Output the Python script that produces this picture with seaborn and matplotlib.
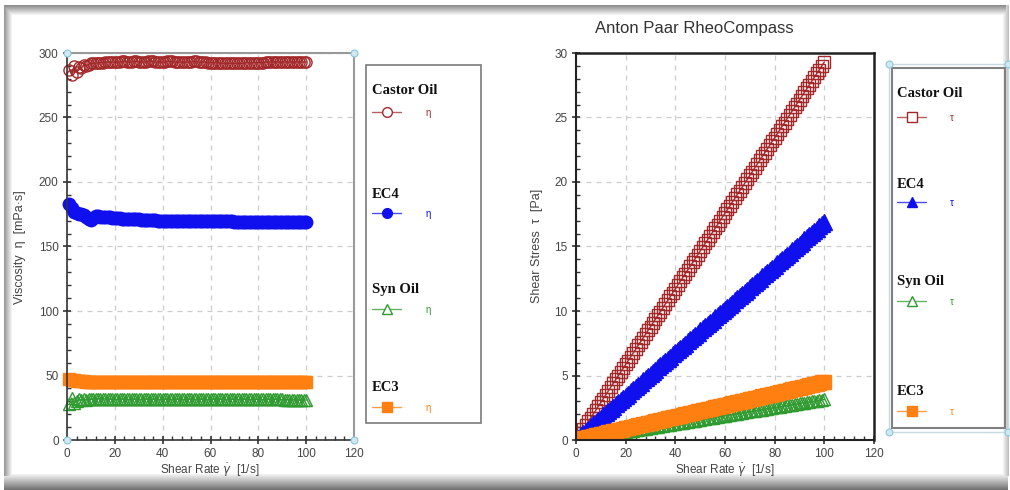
import numpy as np
import matplotlib
matplotlib.use("Agg")
import matplotlib.pyplot as plt
from matplotlib.lines import Line2D
from matplotlib.patches import Rectangle
from matplotlib.ticker import MultipleLocator
import seaborn as sns

# ---- measured flow curves (shear rate in 1/s) ----
shear_rate = [1, 2, 3, 4, 5, 6, 7, 8, 9, 10,
              11, 12, 13, 14, 15, 16, 17, 18, 19, 20,
              21, 22, 23, 24, 25, 26, 27, 28, 29, 30,
              31, 32, 33, 34, 35, 36, 37, 38, 39, 40,
              41, 42, 43, 44, 45, 46, 47, 48, 49, 50,
              51, 52, 53, 54, 55, 56, 57, 58, 59, 60,
              61, 62, 63, 64, 65, 66, 67, 68, 69, 70,
              71, 72, 73, 74, 75, 76, 77, 78, 79, 80,
              81, 82, 83, 84, 85, 86, 87, 88, 89, 90,
              91, 92, 93, 94, 95, 96, 97, 98, 99, 100]

# viscosity eta [mPa.s]
castor_visc = [287, 283, 290, 285, 289, 288, 291, 290, 291, 292,
               292, 292, 292.5, 292.5, 292.5, 293, 293, 293, 293, 293,
               293, 293, 293.5, 293.5, 293, 293, 293, 293.5, 293.5, 293,
               293, 293, 293, 293.5, 293.5, 293.5, 293, 293, 293, 293,
               293, 293.5, 293.5, 293.5, 293, 293, 293, 293, 293, 293,
               293, 293, 293.5, 293.5, 293, 293, 293, 293, 292.5, 292.5,
               292.5, 292.5, 292.5, 292, 292, 292, 292, 292, 292, 292,
               292, 292, 292, 292, 292.5, 292.5, 292.5, 292.5, 292.5, 292.5,
               292.5, 292.5, 293, 293, 293, 293, 293, 293, 293, 293,
               293, 293, 293, 293, 293, 293, 293, 293, 293, 293]
ec4_visc = [183, 180, 177, 176, 175.5, 175, 174.5, 173, 171, 170.5,
            172, 173.5, 173.5, 173, 173, 172.5, 172.5, 172.5, 172, 172,
            172, 171.8, 171.6, 171.5, 171.4, 171.3, 171.2, 171, 171, 171,
            170.8, 170.7, 170.6, 170.5, 170.4, 170.3, 170.2, 170, 170, 170,
            170, 170, 170, 170, 170, 169.8, 169.8, 169.8, 169.8, 169.8,
            169.7, 169.7, 169.7, 169.7, 169.6, 169.6, 169.6, 169.6, 169.5, 169.5,
            169.5, 169.5, 169.5, 169.5, 169.5, 169.4, 169.4, 169.4, 169.4, 169.3,
            169.3, 169.3, 169.3, 169.2, 169.2, 169.2, 169.2, 169.1, 169.1, 169.1,
            169, 169, 169, 169, 169, 169, 169, 169, 169, 169,
            169, 169, 169, 169, 169, 169, 169, 169, 169, 169]
syn_visc = [28, 32.5, 29, 30.5, 31.5, 31, 31.5, 31.2, 31.5, 31.5,
            31.6, 31.8, 32, 32, 32, 31.8, 31.6, 31.5, 31.5, 31.5,
            31.5, 31.5, 31.5, 31.5, 31.5, 31.5, 31.5, 31.5, 31.5, 31.5,
            31.5, 31.5, 31.5, 31.5, 31.5, 31.5, 31.5, 31.5, 31.5, 31.5,
            31.5, 31.5, 31.5, 31.5, 31.5, 31.5, 31.5, 31.5, 31.5, 31.5,
            31.5, 31.5, 31.5, 31.5, 31.5, 31.5, 31.5, 31.5, 31.5, 31.5,
            31.5, 31.5, 31.5, 31.5, 31.5, 31.5, 31.5, 31.5, 31.5, 31.5,
            31.5, 31.5, 31.5, 31.5, 31.5, 31.5, 31.5, 31.5, 31.5, 31.5,
            31.4, 31.4, 31.4, 31.4, 31.4, 31.4, 31.4, 31.4, 31.4, 31.4,
            31.3, 31.3, 31.2, 31.2, 31.2, 31.1, 31.1, 31, 31, 31]
ec3_visc = [47.5, 46.5, 46.2, 46, 45.8, 45.5, 45.4, 45.3, 45.2, 45.1,
            45, 45, 45, 45, 45, 45, 45, 45, 45, 45,
            45, 45, 45, 45, 45, 45, 45, 45, 45, 45,
            45, 45, 45, 45, 45, 45, 45, 45, 45, 45,
            45, 45, 45, 45, 45, 45, 45, 45, 45, 45,
            45, 45, 45, 45, 45, 45, 45, 45, 45, 45,
            45, 45, 45, 45, 45, 45, 45, 45, 45, 45,
            45, 45, 45, 45, 45, 45, 45, 45, 45, 45,
            45, 45, 45, 45, 45, 45, 45, 45, 45, 45,
            45, 45, 45, 45, 45, 45, 45, 45, 45, 45]

# shear stress tau [Pa]
castor_stress = [0.29, 0.57, 0.87, 1.14, 1.45, 1.73, 2.04, 2.32, 2.62, 2.92,
                 3.21, 3.50, 3.80, 4.10, 4.39, 4.69, 4.98, 5.27, 5.57, 5.86,
                 6.15, 6.45, 6.74, 7.03, 7.33, 7.62, 7.91, 8.20, 8.50, 8.79,
                 9.08, 9.38, 9.67, 9.96, 10.26, 10.55, 10.84, 11.13, 11.43, 11.72,
                 12.01, 12.31, 12.60, 12.89, 13.19, 13.48, 13.77, 14.06, 14.36, 14.65,
                 14.94, 15.24, 15.53, 15.82, 16.12, 16.41, 16.70, 16.99, 17.29, 17.58,
                 17.87, 18.17, 18.46, 18.75, 19.05, 19.34, 19.63, 19.92, 20.22, 20.51,
                 20.80, 21.10, 21.39, 21.68, 21.98, 22.27, 22.56, 22.85, 23.15, 23.44,
                 23.73, 24.03, 24.32, 24.61, 24.91, 25.20, 25.49, 25.78, 26.08, 26.37,
                 26.66, 26.96, 27.25, 27.54, 27.84, 28.13, 28.42, 28.71, 29.01, 29.30]
ec4_stress = [0.18, 0.36, 0.53, 0.70, 0.87, 1.05, 1.22, 1.38, 1.54, 1.71,
              1.90, 2.08, 2.25, 2.42, 2.59, 2.76, 2.93, 3.10, 3.27, 3.44,
              3.59, 3.76, 3.93, 4.10, 4.28, 4.45, 4.62, 4.79, 4.96, 5.13,
              5.29, 5.46, 5.63, 5.80, 5.97, 6.12, 6.29, 6.46, 6.63, 6.80,
              6.96, 7.13, 7.30, 7.47, 7.64, 7.81, 7.98, 8.15, 8.32, 8.49,
              8.66, 8.83, 8.99, 9.16, 9.33, 9.50, 9.67, 9.84, 10.01, 10.17,
              10.31, 10.48, 10.65, 10.82, 10.99, 11.15, 11.32, 11.49, 11.66, 11.83,
              12.00, 12.17, 12.34, 12.51, 12.68, 12.84, 13.01, 13.18, 13.35, 13.52,
              13.69, 13.86, 14.03, 14.20, 14.37, 14.53, 14.70, 14.87, 15.04, 15.21,
              15.38, 15.55, 15.72, 15.89, 16.06, 16.22, 16.39, 16.56, 16.73, 16.90]
syn_stress = [0.03, 0.06, 0.09, 0.13, 0.16, 0.19, 0.22, 0.25, 0.28, 0.32,
              0.35, 0.38, 0.41, 0.44, 0.47, 0.50, 0.54, 0.57, 0.60, 0.63,
              0.66, 0.69, 0.72, 0.76, 0.79, 0.82, 0.85, 0.88, 0.91, 0.95,
              0.98, 1.01, 1.04, 1.07, 1.10, 1.13, 1.17, 1.20, 1.23, 1.26,
              1.29, 1.32, 1.35, 1.39, 1.42, 1.45, 1.48, 1.51, 1.54, 1.58,
              1.61, 1.64, 1.67, 1.70, 1.73, 1.76, 1.80, 1.83, 1.86, 1.89,
              1.92, 1.95, 1.98, 2.02, 2.05, 2.08, 2.11, 2.14, 2.17, 2.21,
              2.24, 2.27, 2.30, 2.33, 2.36, 2.39, 2.43, 2.46, 2.49, 2.52,
              2.55, 2.58, 2.61, 2.65, 2.68, 2.71, 2.74, 2.77, 2.80, 2.84,
              2.87, 2.90, 2.93, 2.96, 2.99, 3.02, 3.06, 3.09, 3.12, 3.15]
ec3_stress = [0.05, 0.09, 0.14, 0.18, 0.23, 0.27, 0.32, 0.36, 0.41, 0.45,
              0.50, 0.54, 0.59, 0.63, 0.68, 0.72, 0.77, 0.81, 0.86, 0.90,
              0.95, 0.99, 1.04, 1.08, 1.13, 1.17, 1.22, 1.26, 1.31, 1.35,
              1.40, 1.44, 1.49, 1.53, 1.58, 1.62, 1.67, 1.71, 1.76, 1.80,
              1.85, 1.89, 1.94, 1.98, 2.03, 2.07, 2.12, 2.16, 2.21, 2.25,
              2.30, 2.34, 2.39, 2.43, 2.48, 2.52, 2.57, 2.61, 2.66, 2.70,
              2.75, 2.79, 2.84, 2.88, 2.93, 2.97, 3.02, 3.06, 3.11, 3.15,
              3.20, 3.24, 3.29, 3.33, 3.38, 3.42, 3.47, 3.51, 3.56, 3.60,
              3.65, 3.69, 3.74, 3.78, 3.83, 3.87, 3.92, 3.96, 4.01, 4.05,
              4.10, 4.14, 4.19, 4.23, 4.28, 4.32, 4.37, 4.41, 4.46, 4.50]

sample_names = ["Castor Oil", "EC4", "Syn Oil", "EC3"]
visc_series = [castor_visc, ec4_visc, syn_visc, ec3_visc]
stress_series = [castor_stress, ec4_stress, syn_stress, ec3_stress]
x_ticks = [0, 20, 40, 60, 80, 100, 120]
visc_ticks = [0, 50, 100, 150, 200, 250, 300]
stress_ticks = [0, 5, 10, 15, 20, 25, 30]

colors = ["#a3282a", "#1010ee", "#2f9a2f", "#ff7f10"]
visc_markers = ["o", "o", "^", "s"]
stress_markers = ["s", "^", "^", "s"]
filled = [False, True, False, True]
visc_ms = [8.0, 9.0, 9.0, 9.0]
stress_ms = [9.0, 11.0, 9.0, 10.0]

sns.set_style("white")
plt.rcParams["font.family"] = ["Liberation Sans", "DejaVu Sans"]

W, H = 1010, 490
fig = plt.figure(figsize=(W / 100, H / 100), dpi=100)


def fx(px):
    return px / W


def fy(py):
    return 1 - py / H


# ---- window frame with soft shadow ----
bg = fig.add_axes([0, 0, 1, 1], zorder=-10)
img = np.ones((H, W, 3))
for i, r in enumerate(range(6, 17)):
    img[r, 5:1006] = np.minimum(img[r, 5:1006], 0.55 + 0.45 * i / 10)
for j, c in enumerate(range(4, 13)):
    img[6:476, c] = np.minimum(img[6:476, c], 0.6 + 0.4 * j / 8)
for k, r in enumerate(range(474, 490)):
    img[r, 4:1008] = np.minimum(img[r, 4:1008], 0.95 - 0.5 * k / 15)
for j, c in enumerate(range(1003, 1009)):
    img[6:476, c] = np.minimum(img[6:476, c], 0.95 - 0.2 * j / 5)
bg.imshow(img, aspect="auto", extent=(0, W, H, 0), interpolation="bilinear")
bg.set_xlim(0, W)
bg.set_ylim(H, 0)
bg.axis("off")

axL = fig.add_axes([fx(67), fy(440), fx(354) - fx(67), fy(53) - fy(440)])
axR = fig.add_axes([fx(576), fy(440), fx(874) - fx(576), fy(53) - fy(440)])


def draw_curves(ax, ys, markers, sizes, clip):
    for yv, c, m, f, ms in zip(ys, colors, markers, filled, sizes):
        sns.lineplot(x=shear_rate, y=yv, ax=ax, color=c, marker=m,
                     markersize=ms, markerfacecolor=c if f else "none",
                     markeredgecolor=c, markeredgewidth=1.0, linewidth=1.0,
                     estimator=None, sort=False, legend=False, clip_on=clip)


def style_axes(ax, yticks, yminor, spine_cols):
    ax.set_xlim(0, 120)
    ax.set_ylim(yticks[0], yticks[-1])
    ax.set_xticks(x_ticks)
    ax.set_yticks(yticks)
    ax.xaxis.set_minor_locator(MultipleLocator(4))
    ax.yaxis.set_minor_locator(MultipleLocator(yminor))
    ax.grid(True, which="major", ls=(0, (4, 4)), color="#cccccc", lw=0.9)
    ax.tick_params(which="major", direction="inout", length=6, width=1.2,
                   color="#333333", labelsize=8.5, labelcolor="#444444",
                   left=True, bottom=True, top=False, right=False, pad=3)
    ax.tick_params(which="minor", direction="in", length=3, width=1.0,
                   color="#333333", left=True, bottom=True)
    for side, (col, lw) in spine_cols.items():
        ax.spines[side].set_color(col)
        ax.spines[side].set_linewidth(lw)
    ax.set_xlabel("")
    ax.set_ylabel("")


draw_curves(axL, visc_series, visc_markers, visc_ms, False)
style_axes(axL, visc_ticks, 10, {"left": ("#333333", 1.2), "bottom": ("#333333", 1.2),
                                   "top": ("#999999", 1.5), "right": ("#999999", 1.5)})
draw_curves(axR, stress_series, stress_markers, stress_ms, True)
style_axes(axR, stress_ticks, 1, {"left": ("#222222", 1.5), "bottom": ("#222222", 1.5),
                                    "top": ("#222222", 1.8), "right": ("#222222", 1.8)})

# selection handles on the viscosity plot corners
for (hx, hy) in [(0, 0), (0, 1), (1, 0), (1, 1)]:
    axL.plot([hx], [hy], "o", ms=5, mfc="#cfe9f2", mec="#8fc6d8", mew=0.8,
             transform=axL.transAxes, clip_on=False, zorder=10)

# axis titles
lab_kw = dict(fontsize=8.5, color="#444444")
ylab_kw = dict(fontsize=9, color="#444444")
fig.text(fx(210), fy(470), r"Shear Rate $\dot{\gamma}$  [1/s]", ha="center", va="center", **lab_kw)
fig.text(fx(725), fy(470), r"Shear Rate $\dot{\gamma}$  [1/s]", ha="center", va="center", **lab_kw)
fig.text(fx(20), fy(247), "Viscosity  η  [mPa·s]", rotation=90, ha="center", va="center", **ylab_kw)
fig.text(fx(537), fy(246), "Shear Stress  τ  [Pa]", rotation=90, ha="center", va="center", **ylab_kw)
fig.text(fx(694), fy(28), "Anton Paar RheoCompass", ha="center", va="center",
         fontsize=12, color="#333333")

# ---- legend panels ----
fig.add_artist(Rectangle((fx(366), fy(423)), fx(481) - fx(366), fy(65) - fy(423),
                         transform=fig.transFigure, fill=False, ec="#7a7a7a", lw=1.2))
fig.add_artist(Rectangle((fx(889), fy(432)), fx(1008) - fx(889), fy(64) - fy(432),
                         transform=fig.transFigure, fill=False, ec="#c9d9e1", lw=1.0))
fig.add_artist(Rectangle((fx(892), fy(428)), fx(1005) - fx(892), fy(68) - fy(428),
                         transform=fig.transFigure, fill=False, ec="#808080", lw=1.5))
for (hx, hy) in [(889, 64), (1008, 64), (889, 432), (1008, 432)]:
    fig.add_artist(Line2D([fx(hx)], [fy(hy)], marker="o", ms=5, mfc="#cfe9f2",
                          mec="#8fc6d8", mew=0.8, transform=fig.transFigure))


def legend_panel(x0, label_y, sample_y, sym_x, markers, symbol):
    for name, ly, sy, c, m, f in zip(sample_names, label_y, sample_y, colors, markers, filled):
        fig.text(fx(x0), fy(ly), name, ha="left", va="center", fontsize=10.5,
                 fontweight="bold", family=["Liberation Serif", "DejaVu Serif"],
                 color="#111111")
        fig.add_artist(Line2D([fx(x0), fx(x0 + 29)], [fy(sy), fy(sy)], color=c,
                              lw=1.0, alpha=0.75, transform=fig.transFigure))
        fig.add_artist(Line2D([fx(x0 + 14.5)], [fy(sy)], marker=m, ms=7,
                              mfc=c if f else "white", mec=c, mew=1.0,
                              transform=fig.transFigure))
        fig.text(fx(sym_x), fy(sy + 1), symbol, ha="center", va="center",
                 fontsize=7, color=c)


legend_panel(372, [90, 195, 290, 387], [112, 213, 309, 407], 428, visc_markers, "η")
legend_panel(897, [93, 185, 282, 391], [117, 202, 301, 411], 952, stress_markers, "τ")

fig.savefig("out.png", dpi=100)
